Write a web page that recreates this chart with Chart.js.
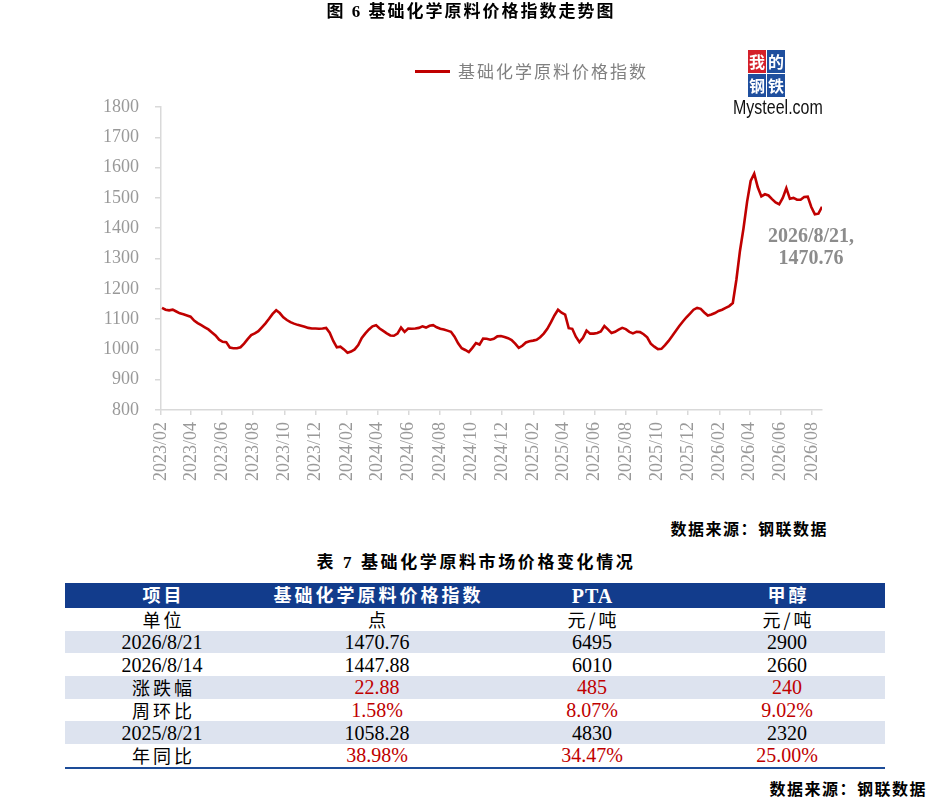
<!DOCTYPE html>
<html lang="zh-CN">
<head>
<meta charset="utf-8">
<title>基础化学原料价格指数走势图</title>
<script src="https://cdn.jsdelivr.net/npm/chart.js@4.4.1/dist/chart.umd.min.js"></script>
<style>
  html, body { margin: 0; padding: 0; background: #fff; }
  #page { position: relative; width: 942px; height: 800px; overflow: hidden;
    font-family: "Liberation Serif", "Noto Sans CJK SC", serif; color: #000; }
  #chart { position: absolute; left: 0; top: 0; }
  .caption { position: absolute; font-family: "Liberation Serif", "Noto Sans CJK SC", serif;
    font-weight: 700; font-size: 17px; line-height: 20px; letter-spacing: 2px; white-space: nowrap; }
  .source { position: absolute; font-family: "Noto Sans CJK SC", sans-serif; font-weight: 700;
    font-size: 16px; line-height: 20px; letter-spacing: 1.5px; white-space: nowrap; }
  #legend { position: absolute; left: 415px; top: 61px; height: 20px; white-space: nowrap; }
  #legend .swatch { position: absolute; left: 0; top: 9px; width: 35px; height: 3px; background: #c00000; }
  #legend .text { position: absolute; left: 43px; top: 0; font-family: "Noto Sans CJK SC", sans-serif;
    font-size: 17px; line-height: 20px; letter-spacing: 2px; color: #808080; }
  #logo { position: absolute; left: 748px; top: 50px; width: 80px; height: 70px; }
  #logo .sq { position: absolute; width: 18px; height: 23px; color: #fff; font-family: "Noto Sans CJK SC";
    font-weight: 700; font-size: 16px; line-height: 23px; text-align: center; }
  #logo .red { background: #d41f2a; }
  #logo .blue { background: #1f4f9e; }
  #logo .brand { position: absolute; left: -15px; top: 46px; font-family: "Liberation Sans", sans-serif;
    font-size: 20px; line-height: 22px; color: #111; transform: scaleX(0.8); transform-origin: 0 50%; }
  #table { position: absolute; left: 65px; top: 583px; width: 820px; border-collapse: collapse; table-layout: fixed; }
  #table td, #table th { padding: 0; text-align: center; vertical-align: middle; white-space: nowrap; overflow: hidden; }
  #table th { background: #123c8c; color: #fff; height: 25px; font-family: "Liberation Serif", "Noto Sans CJK SC", serif;
    font-weight: 700; font-size: 18px; line-height: 22px; letter-spacing: 3px; text-indent: 3px; }
  #table th.latin { font-size: 20px; letter-spacing: 1px; text-indent: 1px; }
  #table td { height: 22.7px; font-size: 20px; line-height: 22px; }
  #table td.cjk { font-family: "Noto Sans CJK SC", sans-serif; font-size: 18px; letter-spacing: 3px; text-indent: 3px; }
  #table tr.shade td { background: #dde3ef; }
  #table td.red { color: #c00000; }
  #table tr.last td { border-bottom: 2.5px solid #1d4c98; }
</style>
</head>
<body>
<div id="page">
  <canvas id="chart" width="942" height="500"></canvas>
  <div class="caption" style="left:0;width:942px;top:2px;text-align:center">图 6 基础化学原料价格指数走势图</div>
  <div id="legend"><span class="swatch"></span><span class="text">基础化学原料价格指数</span></div>
  <div id="logo">
    <div class="sq red" style="left:0;top:0">我</div>
    <div class="sq blue" style="left:19px;top:0">的</div>
    <div class="sq blue" style="left:0;top:24px">钢</div>
    <div class="sq blue" style="left:19px;top:24px">铁</div>
    <div class="brand">Mysteel.com</div>
  </div>
  <div class="source" style="right:114px;top:518px">数据来源：钢联数据</div>
  <div class="caption" style="left:5px;width:942px;top:553px;text-align:center;letter-spacing:2.6px">表 7 基础化学原料市场价格变化情况</div>
  <table id="table"></table>
  <div class="source" style="right:15px;top:778px">数据来源：钢联数据</div>
</div>
<script>
// weekly index values (Fridays), 2023/02/03 .. 2026/08/21
const indexValues = [
  1137, 1131, 1129, 1131, 1125, 1119, 1116, 1112, 1108, 1095,
  1087, 1080, 1073, 1066, 1056, 1046, 1032, 1025, 1024, 1006,
  1004, 1004, 1007, 1019, 1034, 1047, 1053, 1060, 1073, 1086,
  1101, 1117, 1129, 1120, 1106, 1097, 1090, 1085, 1081, 1078,
  1075, 1071, 1069, 1069, 1068, 1069, 1071, 1055, 1028, 1007,
  1009, 1000, 989, 993, 1000, 1014, 1038, 1053, 1066, 1076,
  1080, 1069, 1061, 1053, 1046, 1045, 1052, 1072, 1058, 1069,
  1068, 1069, 1071, 1076, 1072, 1078, 1080, 1073, 1068, 1066,
  1062, 1058, 1042, 1020, 1004, 998, 991, 1005, 1021, 1016,
  1036, 1035, 1032, 1035, 1043, 1044, 1041, 1037, 1031, 1019,
  1005, 1012, 1023, 1027, 1029, 1032, 1040, 1052, 1068, 1089,
  1112, 1131, 1121, 1115, 1070, 1068, 1042, 1024, 1038, 1062,
  1052, 1052, 1054, 1059, 1077, 1066, 1054, 1058, 1065, 1071,
  1067, 1058, 1053, 1058, 1057, 1050, 1040, 1019, 1009, 1001,
  1002, 1014, 1028, 1044, 1061, 1077, 1092, 1106, 1118, 1131,
  1137, 1134, 1122, 1112, 1115, 1120, 1127, 1131, 1137, 1143,
  1153, 1230, 1325, 1400, 1487, 1556, 1580, 1535, 1505, 1512,
  1508, 1496, 1485, 1479, 1500, 1532, 1497, 1500, 1494, 1494,
  1503, 1504, 1470, 1446, 1447.88, 1470.76
];
const firstWeek = [2023, 2, 3];
const axisStart = [2023, 2, 1];
const tickLabels = [
  '2023/02', '2023/04', '2023/06', '2023/08', '2023/10', '2023/12',
  '2024/02', '2024/04', '2024/06', '2024/08', '2024/10', '2024/12',
  '2025/02', '2025/04', '2025/06', '2025/08', '2025/10', '2025/12',
  '2026/02', '2026/04', '2026/06', '2026/08'
];
const yTicks = { min: 800, max: 1800, step: 100 };

// table
const tableColumns = ['项目', '基础化学原料价格指数', 'PTA', '甲醇'];
const tableUnits = ['单位', '点', '元/吨', '元/吨'];
const rowLabels = ['2026/8/21', '2026/8/14', '涨跌幅', '周环比', '2025/8/21', '年同比'];
const indexColumn = ['1470.76', '1447.88', '22.88', '1.58%', '1058.28', '38.98%'];
const ptaColumn = ['6495', '6010', '485', '8.07%', '4830', '34.47%'];
const methanolColumn = ['2900', '2660', '240', '9.02%', '2320', '25.00%'];
const redRows = [2, 3, 5];

const DAY = 86400000;
const dayOf = (y, m, d) => Date.UTC(y, m - 1, d) / DAY;
const start = dayOf(...firstWeek);
const points = indexValues.map((v, i) => ({ x: start + i * 7, y: v }));
const tickDays = tickLabels.map((s) => {
  const [y, m] = s.split('/').map(Number);
  return dayOf(y, m, 1);
});
const lastDate = new Date((start + (indexValues.length - 1) * 7) * DAY);
const lastDateText = `${lastDate.getUTCFullYear()}/${lastDate.getUTCMonth() + 1}/${lastDate.getUTCDate()}`;

const lastLabel = {
  id: 'lastLabel',
  afterDatasetsDraw(chart) {
    const meta = chart.getDatasetMeta(0);
    const pt = meta.data[meta.data.length - 1];
    const { ctx } = chart;
    ctx.save();
    ctx.font = 'bold 20px "Liberation Serif"';
    ctx.fillStyle = '#8c8c8c';
    ctx.textAlign = 'center';
    ctx.textBaseline = 'middle';
    ctx.fillText(`${lastDateText},`, pt.x - 11, pt.y + 30);
    ctx.fillText(indexValues[indexValues.length - 1].toFixed(2), pt.x - 11, pt.y + 52);
    ctx.restore();
  },
};

const axisColor = '#d9d9d9';
const tickFont = { family: '"Liberation Serif", serif', size: 18 };

new Chart(document.getElementById('chart').getContext('2d'), {
  type: 'line',
  data: {
    datasets: [
      {
        label: '基础化学原料价格指数',
        data: points,
        borderColor: '#c00000',
        backgroundColor: '#c00000',
        borderWidth: 2.6,
        pointRadius: 0,
        tension: 0,
      },
    ],
  },
  options: {
    responsive: false,
    animation: false,
    layout: { padding: { top: 107, right: 120, left: 0, bottom: 0 } },
    plugins: {
      legend: { display: false },
      tooltip: { enabled: false },
    },
    scales: {
      x: {
        type: 'linear',
        min: dayOf(...axisStart),
        max: points[points.length - 1].x,
        afterBuildTicks(scale) {
          scale.ticks = tickDays.map((v) => ({ value: v }));
        },
        afterFit(scale) {
          scale.height = 90;
        },
        ticks: {
          autoSkip: false,
          minRotation: 90,
          maxRotation: 90,
          padding: 7,
          color: '#999',
          font: tickFont,
          callback(value, index) {
            return tickLabels[index];
          },
        },
        grid: { drawOnChartArea: false, drawTicks: true, tickLength: 5, color: axisColor, lineWidth: 1.5 },
        border: { color: axisColor, width: 1.5 },
      },
      y: {
        min: yTicks.min,
        max: yTicks.max,
        afterFit(scale) {
          scale.width = 161;
        },
        ticks: {
          stepSize: yTicks.step,
          padding: 16,
          color: '#999',
          font: tickFont,
          callback(value) {
            return String(value);
          },
        },
        grid: { drawOnChartArea: false, drawTicks: true, tickLength: 6, color: axisColor, lineWidth: 1.5 },
        border: { color: axisColor, width: 1.5 },
      },
    },
  },
  plugins: [lastLabel],
});

// build the table
const table = document.getElementById('table');
const widths = [194, 236, 194, 196];
const colgroup = document.createElement('colgroup');
widths.forEach((w) => {
  const col = document.createElement('col');
  col.style.width = `${w}px`;
  colgroup.appendChild(col);
});
table.appendChild(colgroup);

const isLatin = (s) => /^[\x00-\x7f%]+$/.test(s);
const head = document.createElement('tr');
tableColumns.forEach((c) => {
  const th = document.createElement('th');
  th.textContent = c;
  if (isLatin(c)) th.className = 'latin';
  head.appendChild(th);
});
table.appendChild(head);

const addRow = (cells, cls, red) => {
  const tr = document.createElement('tr');
  if (cls) tr.className = cls;
  cells.forEach((c, i) => {
    const td = document.createElement('td');
    td.textContent = c;
    const classes = [];
    if (!isLatin(c)) classes.push('cjk');
    if (red && i > 0) classes.push('red');
    td.className = classes.join(' ');
    tr.appendChild(td);
  });
  table.appendChild(tr);
};

addRow(tableUnits, '', false);
rowLabels.forEach((label, r) => {
  const cls = [];
  if (r % 2 === 0) cls.push('shade');
  if (r === rowLabels.length - 1) cls.push('last');
  addRow([label, indexColumn[r], ptaColumn[r], methanolColumn[r]], cls.join(' '), redRows.includes(r));
});
</script>
</body>
</html>
